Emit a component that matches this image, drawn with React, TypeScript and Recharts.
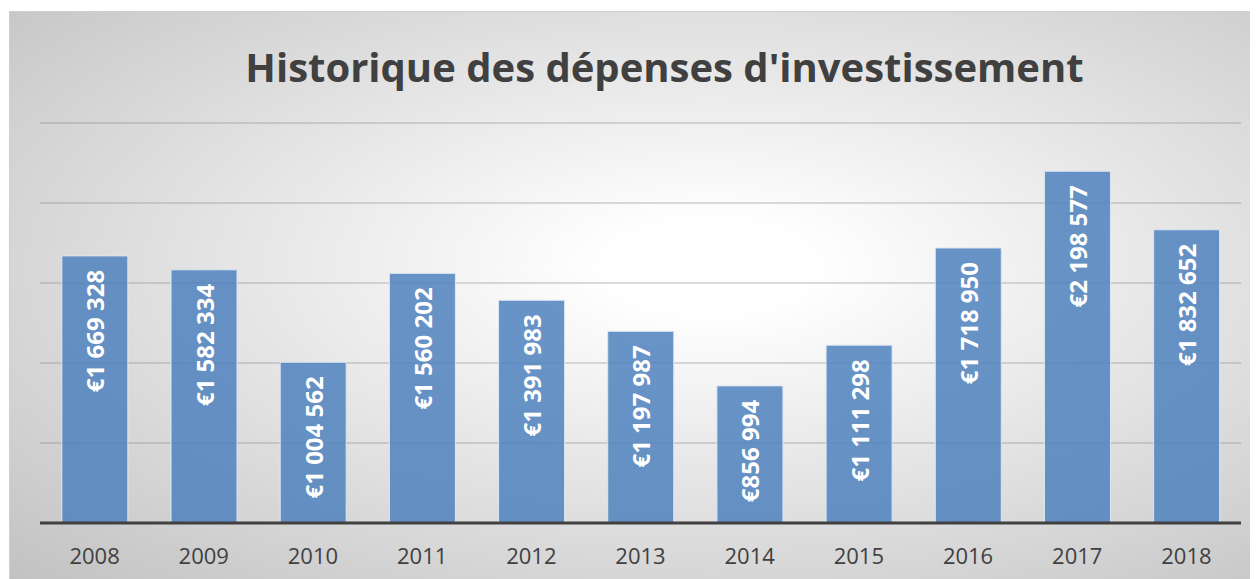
import { BarChart, Bar, XAxis, YAxis, CartesianGrid, LabelList } from "recharts";

const years = ["2008", "2009", "2010", "2011", "2012", "2013", "2014", "2015", "2016", "2017", "2018"];
const depenses = [1669328, 1582334, 1004562, 1560202, 1391983, 1197987, 856994, 1111298, 1718950, 2198577, 1832652];
const yTicks = [0, 500000, 1000000, 1500000, 2000000, 2500000];

const data = years.map((year, i) => ({ year, value: depenses[i] }));

const formatEuro = (v: number) => "€" + String(v).replace(/\B(?=(\d{3})+(?!\d))/g, " ");

const FONT = "'Open Sans', sans-serif";

const BarLabel = (props: any) => {
  const { x, y, width, value } = props;
  const cx = Number(x) + Number(width) / 2;
  const ty = Number(y) + 14;
  return (
    <text
      x={cx}
      y={ty}
      transform={`rotate(-90, ${cx}, ${ty})`}
      textAnchor="end"
      dominantBaseline="central"
      fill="#ffffff"
      fontFamily={FONT}
      fontWeight="bold"
      fontSize={24}
    >
      {formatEuro(Number(value))}
    </text>
  );
};

export default function App() {
  return (
    <div style={{ position: "relative", width: 1250, height: 571 }}>
      <div
        style={{
          position: "absolute",
          left: 1,
          top: 3,
          width: 1249,
          height: 568,
          boxSizing: "border-box",
          borderTop: "1px solid #cfcfcf",
          borderLeft: "1px solid #cfcfcf",
          background: "radial-gradient(farthest-corner at 56% 45%, #ffffff 0%, #ffffff 10%, #c2c2c2 100%)",
        }}
      >
        <div
          style={{
            position: "absolute",
            left: 0,
            top: 35,
            width: 1249,
            boxSizing: "border-box",
            paddingLeft: 60,
            textAlign: "center",
            fontFamily: FONT,
            fontWeight: "bold",
            fontSize: 40,
            lineHeight: 1,
            color: "#404040",
            whiteSpace: "nowrap",
          }}
        >
          Historique des dépenses d'investissement
        </div>
        <div style={{ position: "absolute", left: -1, top: -1 }}>
          <BarChart
            width={1249}
            height={568}
            data={data}
            margin={{ top: 112, right: 17, bottom: 0, left: 31 }}
            barCategoryGap="20%"
          >
            <CartesianGrid vertical={false} stroke="#7f7f7f" strokeOpacity={0.55} />
            <YAxis hide domain={[0, 2500000]} ticks={yTicks} />
            <XAxis
              dataKey="year"
              height={56}
              tickLine={false}
              tickSize={0}
              tickMargin={25}
              axisLine={{ stroke: "#404040", strokeWidth: 3 }}
              tick={{ fill: "#404040", fontFamily: FONT, fontSize: 22 }}
            />
            <Bar
              dataKey="value"
              fill="#4f81bd"
              fillOpacity={0.85}
              stroke="#dce6f2"
              strokeWidth={1}
              isAnimationActive={false}
            >
              <LabelList dataKey="value" content={BarLabel} />
            </Bar>
          </BarChart>
        </div>
      </div>
    </div>
  );
}
